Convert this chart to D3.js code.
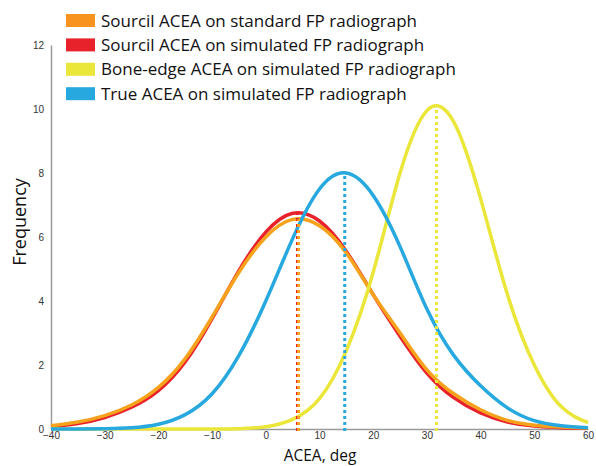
<!DOCTYPE html>
<html>
<head>
<meta charset="utf-8">
<script src="https://cdn.jsdelivr.net/npm/d3@7"></script>
<style>
  body { margin: 0; background: #fff; }
</style>
</head>
<body>
<div id="chart"></div>
<script>
var angles = [-40, -35, -30, -25, -20, -15, -10, -5, 0, 5, 10, 15, 20, 25, 30, 35, 40, 45, 50, 55, 60];
var sourcilStandard = [0.1, 0.22, 0.42, 0.75, 1.3, 2.2, 3.5, 4.9, 6.0, 6.55, 6.35, 5.5, 4.2, 3.0, 1.85, 1.1, 0.6, 0.27, 0.12, 0.06, 0.03];
var sourcilSimulated = [0.07, 0.17, 0.36, 0.68, 1.2, 2.1, 3.45, 4.95, 6.15, 6.74, 6.5, 5.55, 4.2, 2.9, 1.75, 0.98, 0.5, 0.22, 0.09, 0.04, 0.02];
var boneEdgeSimulated = [0, 0, 0, 0, 0, 0, 0, 0.01, 0.07, 0.3, 0.95, 2.45, 4.9, 8.0, 9.95, 9.6, 7.2, 4.2, 2.0, 0.7, 0.2];
var trueSimulated = [0, 0, 0.01, 0.04, 0.15, 0.45, 1.1, 2.3, 4.0, 5.95, 7.5, 8.0, 7.3, 5.7, 3.75, 2.3, 1.35, 0.66, 0.26, 0.1, 0.04];

var seriesNames = [
  "Sourcil ACEA on standard FP radiograph",
  "Sourcil ACEA on simulated FP radiograph",
  "Bone-edge ACEA on simulated FP radiograph",
  "True ACEA on simulated FP radiograph"
];
var meanAngles = [6.1, 5.9, 31.8, 14.7];
var peakFreqs = [6.56, 6.75, 10.1, 8.0];

var xTicks = [-40, -30, -20, -10, 0, 10, 20, 30, 40, 50, 60];
var yTicks = [0, 2, 4, 6, 8, 10, 12];

var lineColors = ["#f6a21c", "#e8222a", "#ebe63a", "#27a8df"];
var swatchColors = ["#f7931e", "#e8222a", "#ebe63a", "#27a8df"];

var allSeries = [sourcilStandard, sourcilSimulated, boneEdgeSimulated, trueSimulated];

var width = 596, height = 466;

var svg = d3.select("#chart").append("svg")
  .attr("width", width)
  .attr("height", height);

var x = d3.scaleLinear().domain([-40, 60]).range([51, 588]);
var y = d3.scaleLinear().domain([0, 12]).range([429, 45]);

// axes
var xAxis = svg.append("g")
  .attr("transform", "translate(0," + y(0) + ")")
  .call(d3.axisBottom(x).tickValues(xTicks).tickSize(0).tickPadding(3));
var yAxis = svg.append("g")
  .attr("transform", "translate(" + x(-40) + ",0)")
  .call(d3.axisLeft(y).tickValues(yTicks).tickSize(0).tickPadding(7));

[xAxis, yAxis].forEach(function (g) {
  g.select(".domain").attr("stroke", "#9a9a9a").attr("stroke-width", 1.5);
  g.selectAll("text")
    .attr("font-family", "Liberation Sans, Arial, sans-serif")
    .attr("font-size", 10)
    .attr("fill", "#333");
});

// curves
var line = d3.line()
  .x(function (d, i) { return x(angles[i]); })
  .y(function (d) { return y(d); })
  .curve(d3.curveNatural);

var drawOrder = [1, 0, 2, 3];
drawOrder.forEach(function (k) {
  svg.append("path")
    .datum(allSeries[k])
    .attr("d", line)
    .attr("fill", "none")
    .attr("stroke", lineColors[k])
    .attr("stroke-width", 3.5)
    .attr("stroke-linejoin", "round");
});

// dotted mean lines
[1, 0, 2, 3].forEach(function (k) {
  svg.append("line")
    .attr("x1", x(meanAngles[k]))
    .attr("x2", x(meanAngles[k]))
    .attr("y1", y(0) + 2)
    .attr("y2", y(peakFreqs[k]))
    .attr("stroke", lineColors[k])
    .attr("stroke-width", 3)
    .attr("stroke-dasharray", "3,3");
});

// legend
var legend = svg.append("g").attr("transform", "translate(66,14)");
seriesNames.forEach(function (name, i) {
  var row = legend.append("g").attr("transform", "translate(0," + (i * 24.4) + ")");
  row.append("rect")
    .attr("width", 29)
    .attr("height", 13)
    .attr("fill", swatchColors[i]);
  row.append("text")
    .attr("x", 35)
    .attr("y", 12.5)
    .attr("font-family", "Open Sans, sans-serif")
    .attr("font-size", 17)
    .attr("fill", "#111")
    .text(name);
});

// axis titles
svg.append("text")
  .attr("x", 320)
  .attr("y", 461)
  .attr("text-anchor", "middle")
  .attr("font-family", "Open Sans, sans-serif")
  .attr("font-size", 15.5)
  .attr("fill", "#111")
  .text("ACEA, deg");

svg.append("text")
  .attr("transform", "translate(26,222) rotate(-90)")
  .attr("text-anchor", "middle")
  .attr("font-family", "Open Sans, sans-serif")
  .attr("font-size", 18)
  .attr("fill", "#111")
  .text("Frequency");
</script>
</body>
</html>
